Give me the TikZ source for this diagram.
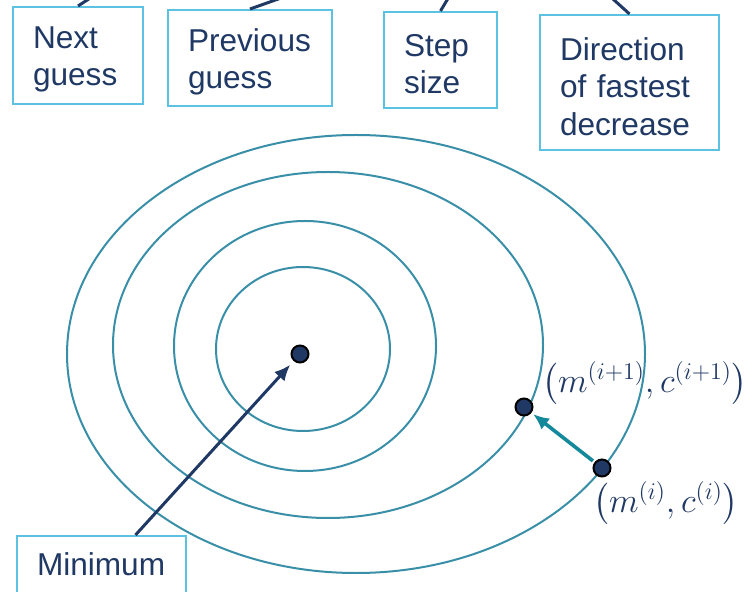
\documentclass[tikz,border=0pt]{standalone}
\usepackage{amsmath}
\usepackage{fontspec}
\setmainfont{Liberation Sans}
\usetikzlibrary{arrows.meta, positioning, calc}
\definecolor{navy}{HTML}{1F3864}
\definecolor{boxblue}{HTML}{5BC2E2}
\definecolor{contourteal}{HTML}{3A8FA8}
\definecolor{stepteal}{HTML}{14899B}
\tikzset{
  >=Latex,  % default arrow tip
  % label boxes
  box/.style={draw=boxblue, line width=1pt, text=navy, align=left, anchor=north west, inner xsep=10pt, inner ysep=0pt},
  % contour lines and guesses
  contour/.style={draw=contourteal, line width=1pt},
  guess/.style={circle, fill=navy, draw=black, line width=1pt, minimum size=8.5pt, inner sep=0pt},
  % connections
  connect/.style={navy, line width=1.5pt},
  connect arrow/.style={-{Latex[length=8pt,width=7pt]}, navy, line width=1.5pt, shorten >=2.5pt},
  step arrow/.style={-{Latex[length=8pt,width=7pt]}, stepteal, line width=1.8pt, shorten >=1pt, shorten <=1pt},
  coordlbl/.style={navy, font=\fontsize{18}{20}\selectfont}
}
\begin{document}
\begin{tikzpicture}[x=0.5pt, y=-0.5pt, font=\fontsize{15.8}{18.7}\selectfont]
    \clip (0,0) rectangle (754,592);
    % contours
    \draw[contour] (303,349) ellipse [x radius=87, y radius=82];
    \draw[contour] (305,346) ellipse [x radius=131, y radius=125];
    \draw[contour] (328,345) ellipse [x radius=215, y radius=173];
    \draw[contour] (356,354) ellipse [x radius=289, y radius=219];
    % boxes
    \node[box, text width=45pt, minimum height=48.5pt] (next) at (12,6) {Next\\guess\vspace{-4pt}};
    \node[box, text width=62pt, minimum height=48pt] (prev) at (167,9) {Previous\\guess\vspace{-4pt}};
    \node[box, text width=36.5pt, minimum height=48pt] (stepsz) at (383,11) {Step\\size\vspace{-4pt}};
    \node[box, text width=69.5pt, minimum height=67.5pt] (dir) at (539,14) {Direction\\of fastest\\decrease\vspace{-4pt}};
    \node[box, text width=64.5pt, inner ysep=8.5pt, text depth=12pt] (minbox) at (16,535) {Minimum};
    % free ends above the picture
    \coordinate (nextup) at (118,-20);
    \coordinate (prevup) at (332,-20);
    \coordinate (stepup) at (459,-20);
    \coordinate (dirup) at (592,-20);
    \draw[connect] (next.north) -- (nextup);
    \draw[connect] (prev.north) -- (prevup);
    \draw[connect] (stepsz.north) -- (stepup);
    \draw[connect] (dir.north) -- (dirup);
    % guesses
    \node[guess] (mindot) at (300,354) {};
    \node[guess] (newdot) at (524,407) {};
    \node[guess] (olddot) at (602,468) {};
    \draw[connect arrow] ([xshift=17pt]minbox.north) -- (mindot);
    \draw[step arrow] (olddot) -- (newdot);
    \node[coordlbl] (newlbl) at (645,383) {$\bigl(m^{(i+1)}, c^{(i+1)}\bigr)$};
    \node[coordlbl] (oldlbl) at (666,503) {$\bigl(m^{(i)}, c^{(i)}\bigr)$};
\end{tikzpicture}
\end{document}
